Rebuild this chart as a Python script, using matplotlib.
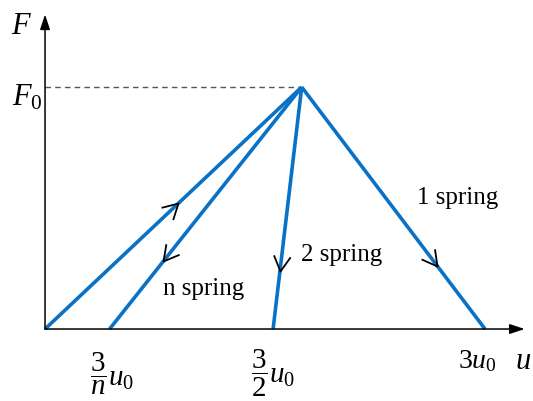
import numpy as np
import matplotlib
matplotlib.use("Agg")
from matplotlib import pyplot as plt
from matplotlib.path import Path
from matplotlib.markers import MarkerStyle
from matplotlib.transforms import Affine2D

plt.rcParams["font.family"] = ["Liberation Serif", "DejaVu Serif"]
plt.rcParams["mathtext.fontset"] = "custom"
plt.rcParams["mathtext.rm"] = "Liberation Serif"
plt.rcParams["mathtext.it"] = "Liberation Serif:italic"

# Вершина диаграммы (u в единицах u0, F в единицах F0)
PEAK_U, PEAK_F = 1.75, 1.0
# Точки разгрузки на оси u
UNLOAD_U = [0.44, 1.555, 3.0]
UNLOAD_LABELS = ["n spring", "2 spring", "1 spring"]
TICK_U = [0.46, 1.555, 2.95]
TICK_LABELS = [r"$\dfrac{3}{n}u_0$", r"$\dfrac{3}{2}u_0$", r"$3u_0$"]
# Положения стрелок на линиях (доля пути от вершины / от начала)
ARROW_LOAD = 0.52
ARROW_UNLOAD = [0.72, 0.76, 0.74]

BLUE = "#0a72c6"

fig = plt.figure(figsize=(5.33, 4.02), dpi=100)
ax = fig.add_axes([0, 0, 1, 1])
ax.set_xlim(-0.307, 3.327)
ax.set_ylim(-0.2975, 1.364)
ax.axis("off")

# оси со стрелками
arrow = dict(arrowstyle="-|>,head_length=0.9,head_width=0.3",
             color="black", lw=1.1, shrinkA=0, shrinkB=0)
ax.annotate("", xy=(3.27, 0), xytext=(0, 0), arrowprops=arrow)
ax.annotate("", xy=(0, 1.30), xytext=(0, 0), arrowprops=arrow)

ax.plot([0, PEAK_U], [PEAK_F, PEAK_F], ls=(0, (4, 3)), color="#555555", lw=1)

ax.plot([0, PEAK_U], [0, PEAK_F], color=BLUE, lw=2.6, solid_capstyle="butt")
for u in UNLOAD_U:
    ax.plot([PEAK_U, u], [PEAK_F, 0], color=BLUE, lw=2.6,
            solid_capstyle="butt")

# галочки направления
chevron = Path([(-1, 0.55), (0, 0), (-1, -0.55)],
               [Path.MOVETO, Path.LINETO, Path.LINETO])


def draw_chevron(p0, p1, t):
    x = p0[0] + (p1[0] - p0[0]) * t
    y = p0[1] + (p1[1] - p0[1]) * t
    d0 = ax.transData.transform(p0)
    d1 = ax.transData.transform(p1)
    ang = np.degrees(np.arctan2(d1[1] - d0[1], d1[0] - d0[0]))
    m = MarkerStyle(chevron, transform=Affine2D().rotate_deg(ang))
    ax.plot(x, y, marker=m, ms=22, mfc="none", mec="black", mew=1.3,
            ls="none", zorder=5)


draw_chevron((0, 0), (PEAK_U, PEAK_F), ARROW_LOAD)
for u, t in zip(UNLOAD_U, ARROW_UNLOAD):
    draw_chevron((PEAK_U, PEAK_F), (u, 0), t)

ax.text(2.81, 0.545, UNLOAD_LABELS[2], fontsize=18, ha="center", va="center")
ax.text(2.02, 0.31, UNLOAD_LABELS[1], fontsize=18, ha="center", va="center")
ax.text(1.08, 0.17, UNLOAD_LABELS[0], fontsize=18, ha="center", va="center")

for u, s in zip(TICK_U[:2], TICK_LABELS[:2]):
    ax.text(u, -0.18, s, fontsize=21, ha="center", va="center")
ax.text(TICK_U[2], -0.13, TICK_LABELS[2], fontsize=20, ha="center", va="center")

ax.text(-0.16, 1.255, r"$F$", fontsize=22, ha="center", va="center")
ax.text(-0.12, 0.96, r"$F_0$", fontsize=22, ha="center", va="center")
ax.text(3.26, -0.13, r"$u$", fontsize=22, ha="center", va="center")

fig.savefig("out.png", dpi=100)
